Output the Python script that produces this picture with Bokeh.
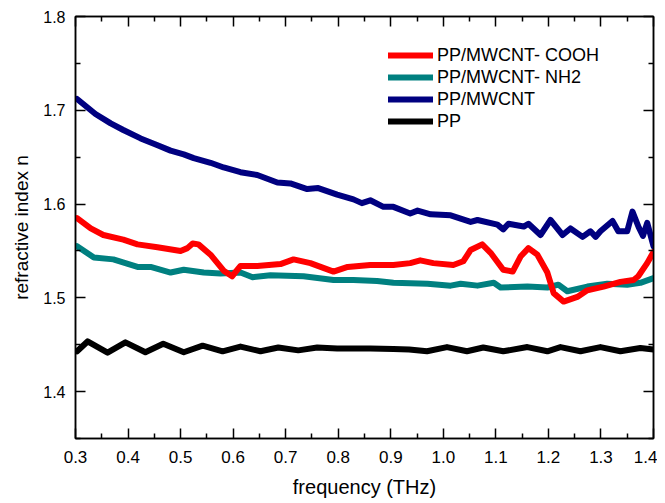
from bokeh.plotting import figure
from bokeh.models import LinearAxis, FixedTicker, Legend, LegendItem
from bokeh.embed import file_html
from bokeh.resources import INLINE

# ---- data ----
cooh_x = [0.303, 0.329, 0.353, 0.391, 0.418, 0.456, 0.500, 0.513, 0.523, 0.534, 0.557, 0.582,
          0.598, 0.614, 0.646, 0.690, 0.715, 0.747, 0.791, 0.818, 0.861, 0.905, 0.937, 0.956,
          0.981, 1.019, 1.038, 1.052, 1.074, 1.090, 1.114, 1.132, 1.147, 1.162, 1.179, 1.198,
          1.210, 1.229, 1.255, 1.274, 1.305, 1.337, 1.362, 1.371, 1.388, 1.400]
cooh_y = [1.585, 1.574, 1.567, 1.562, 1.557, 1.554, 1.550, 1.553, 1.558, 1.557, 1.546, 1.529,
          1.523, 1.534, 1.534, 1.536, 1.541, 1.537, 1.528, 1.533, 1.535, 1.535, 1.537, 1.540,
          1.537, 1.535, 1.539, 1.551, 1.557, 1.548, 1.530, 1.528, 1.544, 1.553, 1.546, 1.527,
          1.505, 1.496, 1.501, 1.508, 1.512, 1.517, 1.519, 1.523, 1.537, 1.549]

nh2_x = [0.303, 0.335, 0.372, 0.418, 0.443, 0.481, 0.506, 0.544, 0.576, 0.614, 0.637, 0.671,
         0.734, 0.791, 0.829, 0.874, 0.905, 0.970, 1.014, 1.033, 1.065, 1.096, 1.109, 1.160,
         1.198, 1.219, 1.236, 1.274, 1.312, 1.350, 1.375, 1.400]
nh2_y = [1.555, 1.543, 1.541, 1.533, 1.533, 1.527, 1.530, 1.527, 1.526, 1.527, 1.522, 1.524,
         1.523, 1.519, 1.519, 1.518, 1.516, 1.515, 1.513, 1.515, 1.513, 1.516, 1.511, 1.512,
         1.511, 1.514, 1.507, 1.512, 1.515, 1.514, 1.516, 1.521]

mwcnt_x = [0.303, 0.338, 0.367, 0.391, 0.424, 0.455, 0.481, 0.506, 0.525, 0.557, 0.582, 0.614,
           0.646, 0.684, 0.709, 0.741, 0.762, 0.798, 0.829, 0.845, 0.861, 0.886, 0.905, 0.937,
           0.951, 0.976, 1.014, 1.052, 1.065, 1.103, 1.114, 1.124, 1.153, 1.162, 1.185, 1.204,
           1.227, 1.242, 1.265, 1.280, 1.290, 1.299, 1.322, 1.333, 1.350, 1.360, 1.372, 1.380,
           1.388, 1.400]
mwcnt_y = [1.712, 1.696, 1.686, 1.679, 1.670, 1.663, 1.657, 1.653, 1.649, 1.644, 1.639, 1.634,
           1.631, 1.623, 1.622, 1.616, 1.617, 1.610, 1.605, 1.601, 1.604, 1.597, 1.597, 1.590,
           1.593, 1.589, 1.588, 1.581, 1.583, 1.578, 1.573, 1.579, 1.576, 1.579, 1.567, 1.583,
           1.567, 1.574, 1.565, 1.571, 1.565, 1.571, 1.582, 1.571, 1.571, 1.592, 1.575, 1.566,
           1.580, 1.555]

pp_x = [0.303, 0.323, 0.361, 0.395, 0.433, 0.467, 0.506, 0.542, 0.580, 0.614, 0.652, 0.686,
        0.724, 0.760, 0.798, 0.861, 0.905, 0.935, 0.969, 1.007, 1.045, 1.076, 1.114, 1.160,
        1.198, 1.223, 1.261, 1.299, 1.337, 1.375, 1.400]
pp_y = [1.443, 1.4535, 1.4415, 1.4525, 1.442, 1.451, 1.442, 1.449, 1.443, 1.448, 1.443, 1.447,
        1.444, 1.447, 1.446, 1.446, 1.4455, 1.445, 1.443, 1.4475, 1.443, 1.447, 1.443, 1.4475,
        1.443, 1.4475, 1.443, 1.4475, 1.443, 1.4465, 1.445]

series_names = ["PP/MWCNT- COOH", "PP/MWCNT- NH2", "PP/MWCNT", "PP"]
series_colors = ["#ff0000", "#008080", "#000080", "#000000"]

x_ticks = [0.3, 0.4, 0.5, 0.6, 0.7, 0.8, 0.9, 1.0, 1.1, 1.2, 1.3, 1.4]
x_tick_labels = ["0.3", "0.4", "0.5", "0.6", "0.7", "0.8", "0.9", "1.0", "1.1", "1.2", "1.3", "1.4"]
x_minor = [0.35, 0.45, 0.55, 0.65, 0.75, 0.85, 0.95, 1.05, 1.15, 1.25, 1.35]
y_ticks = [1.4, 1.5, 1.6, 1.7, 1.8]
y_tick_labels = ["1.4", "1.5", "1.6", "1.7", "1.8"]
y_minor = [1.35, 1.45, 1.55, 1.65, 1.75]

FONT = "Liberation Sans"

p = figure(frame_width=578, frame_height=422, x_range=(0.3, 1.4), y_range=(1.35, 1.8),
           output_backend="svg", toolbar_location=None,
           min_border_left=75, min_border_right=4, min_border_top=16, min_border_bottom=57)
p.xgrid.visible = False
p.ygrid.visible = False
p.outline_line_color = "black"
p.outline_line_width = 1.5
p.background_fill_color = "white"
p.border_fill_color = "white"

xt = FixedTicker(ticks=x_ticks, minor_ticks=x_minor)
yt = FixedTicker(ticks=y_ticks, minor_ticks=y_minor)


def style(ax):
    ax.axis_line_color = "black"
    ax.axis_line_width = 1.5
    ax.major_tick_in = 10
    ax.major_tick_out = 0
    ax.minor_tick_in = 5
    ax.minor_tick_out = 0
    ax.major_tick_line_width = 1.5
    ax.minor_tick_line_width = 1.5
    ax.major_tick_line_color = "black"
    ax.minor_tick_line_color = "black"
    ax.major_label_text_color = "black"
    ax.axis_label_text_color = "black"


xa = p.xaxis[0]
xa.ticker = xt
xa.major_label_overrides = dict(zip(x_ticks, x_tick_labels))
style(xa)
xa.major_label_text_font = FONT
xa.major_label_text_font_size = "17px"
xa.major_label_standoff = 12
xa.axis_label = "frequency (THz)"
xa.axis_label_text_font = FONT
xa.axis_label_text_font_size = "20px"
xa.axis_label_text_font_style = "normal"
xa.axis_label_standoff = 10

ya = p.yaxis[0]
ya.ticker = yt
ya.major_label_overrides = dict(zip(y_ticks, y_tick_labels))
style(ya)
ya.major_label_text_font = FONT
ya.major_label_text_font_size = "16px"
ya.major_label_standoff = 10
ya.axis_label = "refractive index n"
ya.axis_label_text_font = FONT
ya.axis_label_text_font_size = "19px"
ya.axis_label_text_font_style = "normal"
ya.axis_label_standoff = 8

# mirrored tick marks (no labels) on top and right
top_ax = LinearAxis(ticker=xt, major_label_overrides={t: "" for t in x_ticks},
                    major_label_standoff=0)
style(top_ax)
p.add_layout(top_ax, "above")
right_ax = LinearAxis(ticker=yt, major_label_overrides={t: "" for t in y_ticks},
                      major_label_standoff=0)
style(right_ax)
p.add_layout(right_ax, "right")

kw = dict(line_width=6, line_join="round", line_cap="round")
r_nh2 = p.line(nh2_x, nh2_y, color=series_colors[1], **kw)
r_cooh = p.line(cooh_x, cooh_y, color=series_colors[0], **kw)
r_mw = p.line(mwcnt_x, mwcnt_y, color=series_colors[2], **kw)
r_pp = p.line(pp_x, pp_y, color=series_colors[3], **kw)

legend = Legend(items=[LegendItem(label=series_names[0], renderers=[r_cooh]),
                       LegendItem(label=series_names[1], renderers=[r_nh2]),
                       LegendItem(label=series_names[2], renderers=[r_mw]),
                       LegendItem(label=series_names[3], renderers=[r_pp])],
                location=(313, 306), glyph_width=45, glyph_height=22, label_height=22,
                label_standoff=4, spacing=0, padding=0, margin=0,
                border_line_alpha=0, background_fill_alpha=0,
                label_text_font=FONT, label_text_font_size="18px",
                label_text_color="black")
p.add_layout(legend)

open("out.html", "w").write(file_html(p, INLINE))
